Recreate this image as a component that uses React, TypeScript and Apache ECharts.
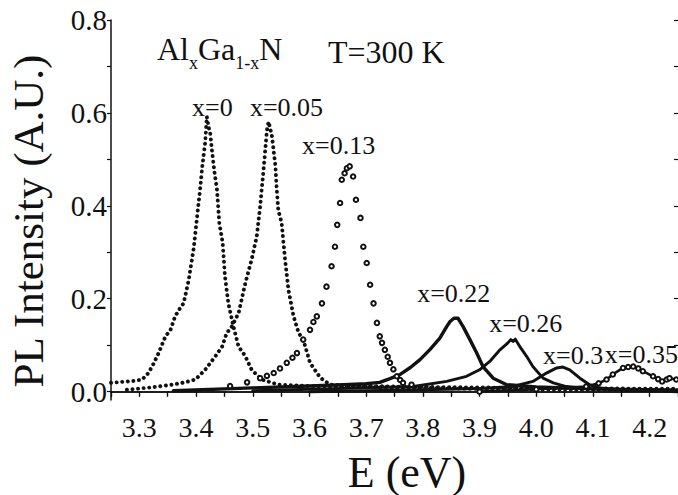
import React, { useEffect, useRef } from "react";
import * as echarts from "echarts";

// Photoluminescence spectra of AlxGa1-xN at T = 300 K, [E (eV), intensity (A.U.)]
const seriesX0: number[][] = [
  [3.25, 0.019], [3.27, 0.021], [3.29, 0.023], [3.305, 0.026], [3.316, 0.04], [3.325, 0.06],
  [3.334, 0.083], [3.346, 0.119], [3.355, 0.133], [3.363, 0.162], [3.372, 0.18], [3.378, 0.19],
  [3.387, 0.24], [3.396, 0.31], [3.403, 0.39], [3.407, 0.434], [3.411, 0.485], [3.416, 0.535],
  [3.419, 0.592], [3.422, 0.57], [3.425, 0.556], [3.428, 0.52], [3.432, 0.477], [3.437, 0.434],
  [3.441, 0.363], [3.447, 0.32], [3.451, 0.248], [3.457, 0.19], [3.466, 0.14], [3.475, 0.097],
  [3.487, 0.076], [3.498, 0.047], [3.516, 0.026], [3.545, 0.015], [3.6, 0.012], [3.7, 0.01],
  [3.8, 0.008], [3.9, 0.006], [4.0, 0.005], [4.1, 0.004], [4.25, 0.003],
];
const seriesX005: number[][] = [
  [3.278, 0.004], [3.32, 0.009], [3.358, 0.015], [3.38, 0.02], [3.399, 0.026], [3.416, 0.047],
  [3.434, 0.076], [3.446, 0.097], [3.454, 0.126], [3.463, 0.14], [3.475, 0.169], [3.487, 0.234],
  [3.498, 0.284], [3.507, 0.334], [3.513, 0.398], [3.519, 0.477], [3.525, 0.563], [3.528, 0.581],
  [3.534, 0.549], [3.54, 0.485], [3.542, 0.441], [3.545, 0.391], [3.551, 0.363], [3.557, 0.284],
  [3.563, 0.219], [3.572, 0.162], [3.581, 0.126], [3.589, 0.112], [3.601, 0.062], [3.619, 0.03],
  [3.636, 0.015], [3.7, 0.012], [3.8, 0.01], [3.9, 0.009], [4.0, 0.008], [4.1, 0.007], [4.25, 0.006],
];
const seriesX013: number[][] = [
  [3.46, 0.012], [3.49, 0.02], [3.513, 0.029], [3.525, 0.034],
  [3.537, 0.04], [3.548, 0.05], [3.56, 0.062], [3.57, 0.073], [3.578, 0.083], [3.589, 0.112],
  [3.601, 0.133], [3.607, 0.15], [3.613, 0.162], [3.622, 0.19], [3.63, 0.226], [3.639, 0.27],
  [3.645, 0.312], [3.649, 0.359], [3.654, 0.406], [3.657, 0.456], [3.662, 0.47], [3.666, 0.481],
  [3.671, 0.485], [3.677, 0.463], [3.682, 0.413], [3.69, 0.374], [3.695, 0.312], [3.701, 0.277],
  [3.707, 0.23], [3.713, 0.19], [3.719, 0.148], [3.724, 0.119], [3.728, 0.105], [3.733, 0.09],
  [3.738, 0.075], [3.742, 0.062], [3.748, 0.048], [3.754, 0.033], [3.76, 0.025], [3.765, 0.019],
  [3.78, 0.015],
];
const seriesX022: number[][] = [
  [3.36, 0.002], [3.5, 0.008], [3.6, 0.012], [3.66, 0.015], [3.7, 0.017], [3.724, 0.02],
  [3.742, 0.028], [3.76, 0.037], [3.778, 0.052], [3.795, 0.069], [3.812, 0.09], [3.83, 0.115],
  [3.842, 0.14], [3.848, 0.151], [3.855, 0.158], [3.862, 0.158], [3.871, 0.14], [3.883, 0.112],
  [3.895, 0.083], [3.906, 0.054], [3.924, 0.029], [3.948, 0.015], [4.0, 0.01], [4.1, 0.006],
  [4.25, 0.003],
];
const seriesX026: number[][] = [
  [3.5, 0.002], [3.6, 0.005], [3.7, 0.008], [3.783, 0.011], [3.842, 0.022], [3.877, 0.033],
  [3.9, 0.047], [3.918, 0.065], [3.936, 0.09], [3.95, 0.105], [3.955, 0.112], [3.959, 0.108],
  [3.963, 0.113], [3.971, 0.097], [3.983, 0.076], [3.994, 0.054], [4.012, 0.029], [4.03, 0.019],
  [4.053, 0.011], [4.1, 0.006], [4.25, 0.002],
];
const seriesX03: number[][] = [
  [3.6, 0.0], [3.8, 0.004], [3.9, 0.007], [3.959, 0.011], [3.994, 0.022], [4.018, 0.04],
  [4.036, 0.051], [4.047, 0.053], [4.059, 0.047], [4.077, 0.029], [4.094, 0.015], [4.112, 0.008],
  [4.15, 0.004], [4.25, 0.0],
];
const seriesX035: number[][] = [
  [3.9, 0.0], [4.0, 0.005], [4.088, 0.011], [4.11, 0.018], [4.124, 0.026], [4.135, 0.037],
  [4.153, 0.051], [4.162, 0.053], [4.171, 0.054], [4.18, 0.05], [4.188, 0.044], [4.206, 0.033],
  [4.215, 0.027], [4.222, 0.022], [4.23, 0.026], [4.235, 0.029], [4.247, 0.026],
];

// Composition labels placed in data coordinates (left edge, vertical centre)
const curveLabels: { name: string; value: number[] }[] = [
  { name: "x=0", value: [3.393, 0.611] },
  { name: "x=0.05", value: [3.495, 0.611] },
  { name: "x=0.13", value: [3.587, 0.529] },
  { name: "x=0.22", value: [3.79, 0.212] },
  { name: "x=0.26", value: [3.917, 0.146] },
  { name: "x=0.3", value: [4.012, 0.077] },
  { name: "x=0.35", value: [4.121, 0.081] },
];

const X_MIN = 3.25;
const X_MAX = 4.25;
const Y_MIN = -0.018;
const Y_MAX = 0.8;

const xTickValues = [
  3.25, 3.3, 3.35, 3.4, 3.45, 3.5, 3.55, 3.6, 3.65, 3.7, 3.75, 3.8, 3.85, 3.9, 3.95, 4.0, 4.05,
  4.1, 4.15, 4.2, 4.25,
];
const xLabelValues = [3.3, 3.4, 3.5, 3.6, 3.7, 3.8, 3.9, 4.0, 4.1, 4.2];
const yTickValues = [0, 0.1, 0.2, 0.3, 0.4, 0.5, 0.6, 0.7, 0.8];
const yLabelValues = [0, 0.2, 0.4, 0.6, 0.8];

const FONT = "Liberation Serif";
const INK = "#111";

export default function App() {
  const ref = useRef<HTMLDivElement>(null);

  useEffect(() => {
    document.body.style.margin = "0";
    const chart = echarts.init(ref.current!, null, { renderer: "svg" });

    const axisLine = { show: true, lineStyle: { color: INK, width: 1.5 } };
    const tickStyle = { color: INK, width: 1.2 };

    const dotted = (data: number[][], w: number, gap: number) => ({
      type: "line",
      data,
      showSymbol: false,
      symbol: "none",
      lineStyle: { color: INK, width: w, type: [0.1, gap], cap: "round", join: "round" },
      z: 3,
    });
    const solid = (data: number[][], w: number) => ({
      type: "line",
      data,
      showSymbol: false,
      symbol: "none",
      lineStyle: { color: INK, width: w, cap: "round", join: "round" },
      z: 3,
    });

    chart.setOption({
      animation: false,
      backgroundColor: "#fff",
      textStyle: { fontFamily: FONT, color: INK },
      grid: { left: 111, top: 20, width: 567, height: 380, containLabel: false },
      xAxis: [
        {
          type: "value",
          position: "bottom",
          min: X_MIN,
          max: X_MAX,
          axisLine,
          axisTick: { show: true, inside: false, length: 5, lineStyle: tickStyle, customValues: xTickValues },
          axisLabel: {
            show: true,
            customValues: xLabelValues,
            formatter: (v: number) => v.toFixed(1),
            fontFamily: FONT,
            fontSize: 28,
            color: INK,
            margin: 13,
          },
          splitLine: { show: false },
        },
        {
          type: "value",
          position: "top",
          min: X_MIN,
          max: X_MAX,
          axisLine,
          axisTick: { show: true, inside: true, length: 5, lineStyle: tickStyle, customValues: xTickValues },
          axisLabel: { show: false },
          splitLine: { show: false },
        },
      ],
      yAxis: [
        {
          type: "value",
          position: "left",
          min: Y_MIN,
          max: Y_MAX,
          axisLine,
          axisTick: { show: true, inside: false, length: 4, lineStyle: tickStyle, customValues: yTickValues },
          axisLabel: {
            show: true,
            customValues: yLabelValues,
            formatter: (v: number) => v.toFixed(1),
            fontFamily: FONT,
            fontSize: 29,
            color: INK,
            margin: 4,
          },
          splitLine: { show: false },
        },
        {
          type: "value",
          position: "right",
          min: Y_MIN,
          max: Y_MAX,
          axisLine: { show: false },
          axisTick: { show: true, inside: true, length: 4, lineStyle: tickStyle, customValues: yTickValues },
          axisLabel: { show: false },
          splitLine: { show: false },
        },
      ],
      series: [
        dotted(seriesX0, 3.9, 5.5),
        dotted(seriesX005, 3.9, 5.5),
        {
          type: "line",
          data: seriesX013,
          symbol: "emptyCircle",
          symbolSize: 4.5,
          showSymbol: true,
          showAllSymbol: true,
          itemStyle: { color: INK, borderWidth: 1 },
          lineStyle: { width: 0, opacity: 0 },
          z: 4,
        },
        solid(seriesX022, 3.4),
        solid(seriesX026, 2.9),
        solid(seriesX03, 3),
        {
          type: "line",
          data: seriesX035,
          symbol: "emptyCircle",
          symbolSize: 4.5,
          showSymbol: true,
          showAllSymbol: true,
          itemStyle: { color: INK, borderWidth: 1 },
          lineStyle: { color: INK, width: 2.6, cap: "round", join: "round" },
          z: 3,
        },
        {
          type: "scatter",
          data: curveLabels,
          symbolSize: 0,
          silent: true,
          z: 5,
          itemStyle: { opacity: 1, color: INK },
          label: {
            show: true,
            position: [0, 0],
            align: "left",
            verticalAlign: "middle",
            formatter: "{b}",
            fontFamily: FONT,
            fontSize: 26,
            color: INK,
            opacity: 1,
          },
        },
      ],
      graphic: [
        {
          type: "text",
          x: 157,
          y: 33,
          z: 10,
          style: {
            text: "{n|Al}{s|x}{n|Ga}{s|1-x}{n|N}",
            textVerticalAlign: "top",
            fill: INK,
            rich: {
              n: { fontFamily: FONT, fontSize: 32, lineHeight: 32, fill: INK },
              s: { fontFamily: FONT, fontSize: 18, lineHeight: 18, padding: [27, 0, 0, 0], fill: INK },
            },
          },
        },
        {
          type: "text",
          x: 328,
          y: 52,
          z: 10,
          style: {
            text: "T=300 K",
            fontFamily: FONT,
            fontSize: 32,
            fill: INK,
            textAlign: "left",
            textVerticalAlign: "middle",
          },
        },
        {
          type: "text",
          x: 28,
          y: 221,
          rotation: Math.PI / 2,
          z: 10,
          style: {
            text: "PL Intensity (A.U.)",
            fontFamily: FONT,
            fontSize: 43,
            fill: INK,
            textAlign: "center",
            textVerticalAlign: "middle",
          },
        },
        {
          type: "text",
          x: 407,
          y: 472,
          z: 10,
          style: {
            text: "E (eV)",
            fontFamily: FONT,
            fontSize: 44,
            fill: INK,
            textAlign: "center",
            textVerticalAlign: "middle",
          },
        },
      ],
    });

    return () => chart.dispose();
  }, []);

  return <div ref={ref} style={{ width: 678, height: 495, background: "#fff" }} />;
}
